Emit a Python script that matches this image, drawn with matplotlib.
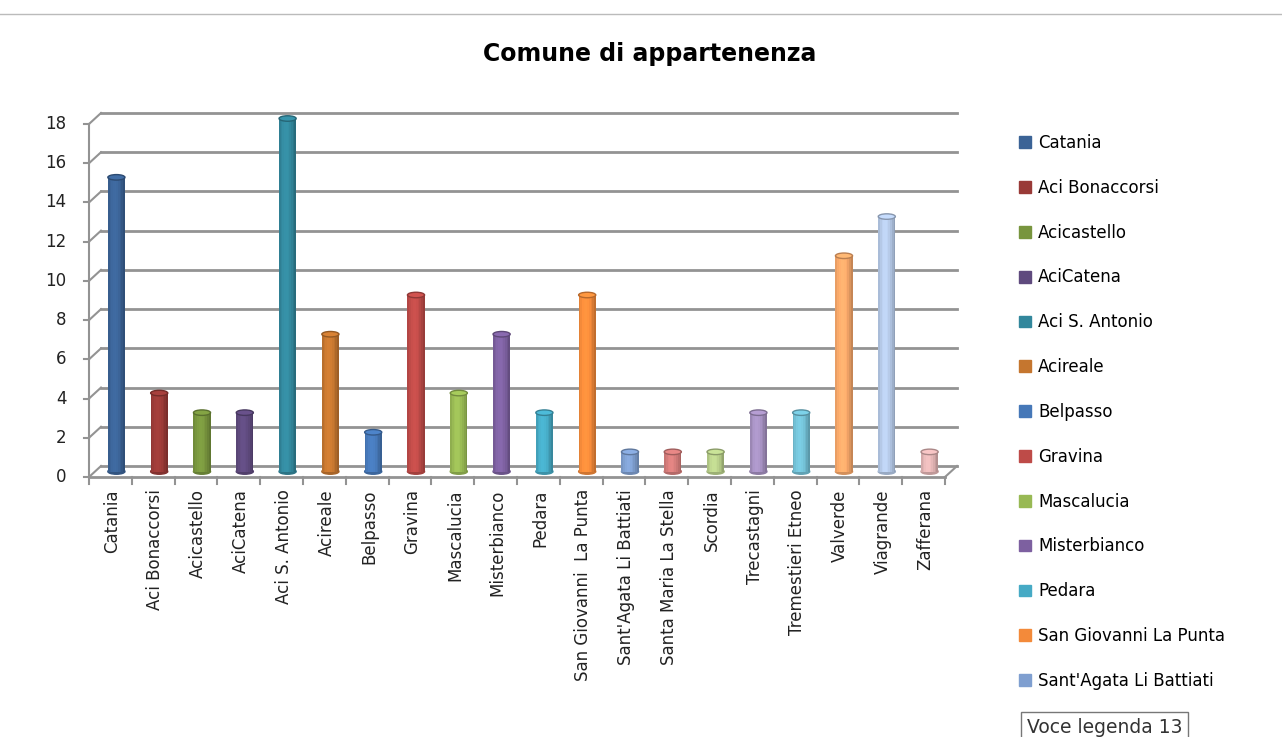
import matplotlib.pyplot as plt
from matplotlib.patches import Ellipse, Patch
import matplotlib.colors as mcolors
import numpy as np

comuni = ["Catania", "Aci Bonaccorsi", "Acicastello", "AciCatena", "Aci S. Antonio",
          "Acireale", "Belpasso", "Gravina", "Mascalucia", "Misterbianco", "Pedara",
          "San Giovanni  La Punta", "Sant'Agata Li Battiati", "Santa Maria La Stella",
          "Scordia", "Trecastagni", "Tremestieri Etneo", "Valverde", "Viagrande", "Zafferana"]
conteggi = [15, 4, 3, 3, 18, 7, 2, 9, 4, 7, 3, 9, 1, 1, 1, 3, 3, 11, 13, 1]
colori = ["#3B6396", "#993A37", "#78953E", "#5F4A7E", "#32879C", "#C5762F",
          "#4678B8", "#BE4B48", "#98B954", "#7D60A0", "#46AAC5", "#F38A3A",
          "#7F9FD0", "#D47C7A", "#B8CF8A", "#A590C0", "#72BFD4", "#F8A86A",
          "#B4C8E6", "#E2B4B4"]
n_legenda = 13

W, H = 1282, 737
fig = plt.figure(figsize=(W / 100, H / 100), dpi=100)

# front plane of the 3d box, in pixels
x0, x1 = 89, 945
y0, y1 = 477, 124
ax = fig.add_axes([x0 / W, 1 - y0 / H, (x1 - x0) / W, (y0 - y1) / H])
ax.set_xlim(0, len(comuni))
ax.set_ylim(0, 18)
ax.axis("off")

xu = (x1 - x0) / len(comuni)
yu = (y0 - y1) / 18
dx, dy = 12 / xu, 11 / yu   # depth of the box in data units
grigio = "#939393"

# back wall gridlines + left wall
for v in range(0, 19, 2):
    ax.plot([dx, len(comuni) + dx], [v + dy, v + dy], color=grigio, lw=2, clip_on=False, zorder=1)
    ax.plot([0, dx], [v, v + dy], color=grigio, lw=1.5, clip_on=False, zorder=1)
    ax.plot([-0.12, 0], [v, v], color=grigio, lw=1.5, clip_on=False, zorder=1)
    ax.text(-0.52, v, str(v), ha="right", va="center", fontsize=12, color="#222222")
ax.plot([0, 0], [0, 18], color=grigio, lw=1.5, clip_on=False, zorder=1)
# floor front edge and right side
ax.plot([0, len(comuni)], [0, 0], color=grigio, lw=2, clip_on=False, zorder=1)
ax.plot([len(comuni), len(comuni) + dx], [0, dy], color=grigio, lw=1.5, clip_on=False, zorder=1)
for i in range(len(comuni) + 1):
    ax.plot([i, i], [0, -0.38], color=grigio, lw=1.5, clip_on=False, zorder=1)

# cylinders
larg = 0.4
bx, by = dx / 2, dy / 2
ey = 5.5 / yu
strisce = 10
for i, (v, c) in enumerate(zip(conteggi, colori)):
    base = np.array(mcolors.to_rgb(c))
    xc = i + 0.5 + bx
    ax.add_patch(Ellipse((xc, by), larg, ey, color=base * 0.85, zorder=2, clip_on=False))
    for k in range(strisce):
        t = (k + 0.5) / strisce * 2 - 1
        f = 0.78 + 0.3 * np.cos(t * 1.4 + 0.25)
        col = np.clip(base * f, 0, 1)
        ax.bar(xc - larg / 2 + (k + 0.5) * larg / strisce, v, width=larg / strisce * 1.05,
               bottom=by, color=col, lw=0, zorder=3, clip_on=False)
    ax.add_patch(Ellipse((xc, v + by), larg, ey, facecolor=np.clip(base * 1.1, 0, 1),
                         edgecolor=base * 0.75, lw=1, zorder=4, clip_on=False))

# category labels
for i, nome in enumerate(comuni):
    ax.text(i + 0.55, -0.62, nome, rotation=90, ha="center", va="top", fontsize=12,
            color="#222222")

fig.text(650 / W, 1 - 54 / H, "Comune di appartenenza", ha="center", va="center",
         fontsize=17, fontweight="bold")

handles = [Patch(color=colori[i], label=comuni[i].replace("  ", " ")) for i in range(n_legenda)]
fig.legend(handles=handles, loc="upper left", bbox_to_anchor=(1019 / W, 1 - 134 / H),
           frameon=False, fontsize=12, handlelength=0.7, handleheight=0.7,
           handletextpad=0.45, labelspacing=1.61, borderpad=0, borderaxespad=0)

fig.text(1027 / W, 1 - 718 / H, "Voce legenda 13", ha="left", va="top", fontsize=13.5,
         color="#333333",
         bbox=dict(boxstyle="square,pad=0.3", facecolor="white", edgecolor="#777777"))

fig.add_artist(plt.Line2D([0, 1], [1 - 14 / H, 1 - 14 / H], color="#BBBBBB", lw=1))

fig.savefig("out.png", dpi=100)
